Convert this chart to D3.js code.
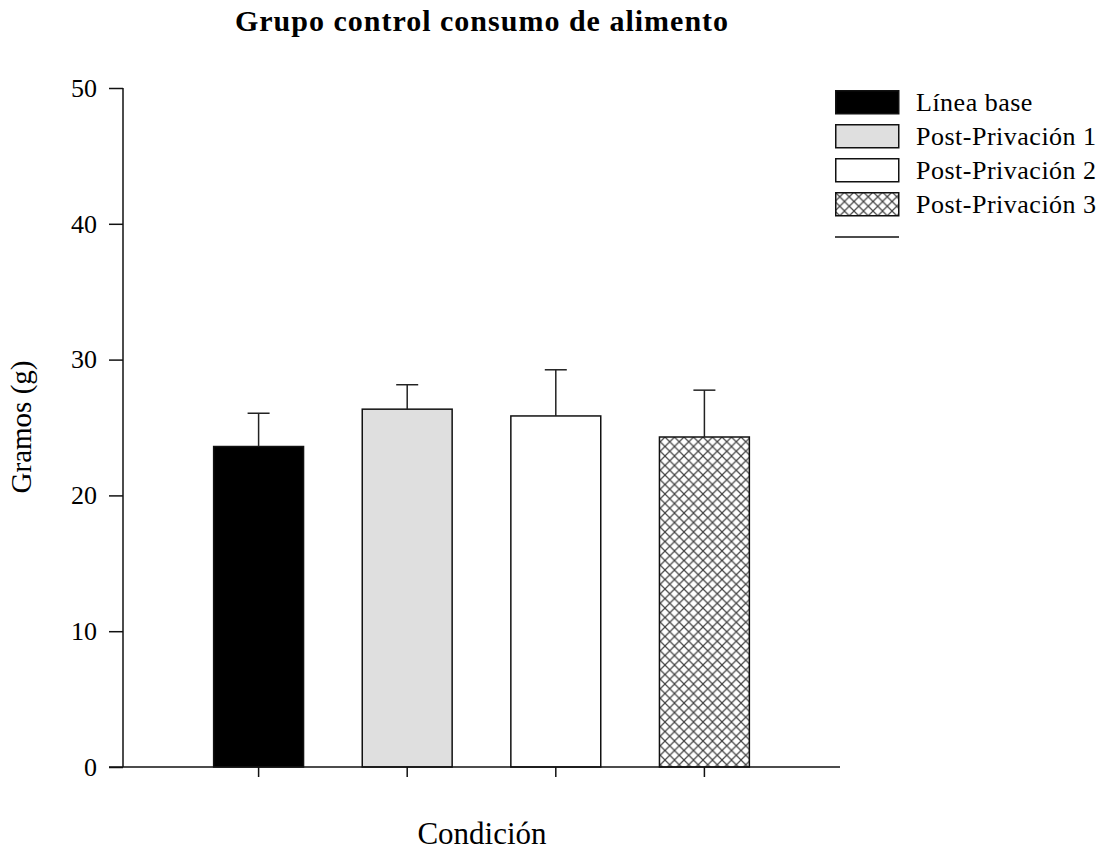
<!DOCTYPE html>
<html>
<head>
<meta charset="utf-8">
<script src="https://cdn.jsdelivr.net/npm/d3@7"></script>
<style>
  body { margin: 0; background: #fff; }
  text { font-family: "Liberation Serif", "Times New Roman", serif; fill: #000; }
</style>
</head>
<body>
<div id="chart"></div>
<script>
// data
const categories = ['Línea base', 'Post-Privación 1', 'Post-Privación 2', 'Post-Privación 3']
const means = [23.6, 26.35, 25.85, 24.3]
const errors = [2.45, 1.8, 3.4, 3.45]
const yTicks = [0, 10, 20, 30, 40, 50]

const width = 1104, height = 850
const plot = { left: 123, right: 840, top: 88, bottom: 767 }
const serif = '"Liberation Serif", "Times New Roman", serif'

const svg = d3.select('#chart').append('svg')
    .attr('width', width)
    .attr('height', height)

// crosshatch fill for the last condition
const defs = svg.append('defs')
const pat = defs.append('pattern')
    .attr('id', 'hatch')
    .attr('patternUnits', 'userSpaceOnUse')
    .attr('width', 9.5).attr('height', 9.5)
pat.append('rect').attr('width', 9.5).attr('height', 9.5).attr('fill', '#fff')
pat.append('path')
    .attr('d', 'M0,0L9.5,9.5M9.5,0L0,9.5')
    .attr('stroke', '#444').attr('stroke-width', 1.2)

const fills = ['#000', '#dfdfdf', '#fff', 'url(#hatch)']

let x = d3.scaleBand()
    .domain(categories)
    .range([plot.left, plot.right])
    .paddingInner(0.395)
    .paddingOuter(0.61)

let y = d3.scaleLinear()
    .domain([0, 50])
    .range([plot.bottom, plot.top])

// title
svg.append('text')
    .attr('x', 482).attr('y', 31)
    .attr('text-anchor', 'middle')
    .attr('font-family', serif)
    .attr('font-size', 30)
    .attr('letter-spacing', 1)
    .attr('font-weight', 'bold')
    .text('Grupo control consumo de alimento')

// bars
svg.append('g').selectAll('rect')
    .data(categories)
    .join('rect')
    .attr('x', d => x(d))
    .attr('width', x.bandwidth())
    .attr('y', (d, i) => y(means[i]))
    .attr('height', (d, i) => y(0) - y(means[i]))
    .attr('fill', (d, i) => fills[i])
    .attr('stroke', '#111')
    .attr('stroke-width', 1.5)

// error bars (upper only)
const eb = svg.append('g').attr('stroke', '#222').attr('stroke-width', 1.5)
categories.forEach(function (c, i) {
    let cx = x(c) + x.bandwidth() / 2
    eb.append('line')
        .attr('x1', cx).attr('x2', cx)
        .attr('y1', y(means[i])).attr('y2', y(means[i] + errors[i]))
    eb.append('line')
        .attr('x1', cx - 11).attr('x2', cx + 11)
        .attr('y1', y(means[i] + errors[i])).attr('y2', y(means[i] + errors[i]))
})

// y axis
const yAxis = svg.append('g')
    .attr('transform', `translate(${plot.left},0)`)
    .call(d3.axisLeft(y).tickValues(yTicks).tickSize(14).tickPadding(12))
yAxis.select('.domain').attr('d', `M0,${plot.top}V${plot.bottom}`).attr('stroke', '#111').attr('stroke-width', 1.5)
yAxis.selectAll('.tick line').attr('stroke', '#111').attr('stroke-width', 1.5)
yAxis.selectAll('.tick text')
    .attr('font-size', 26)
    .attr('font-family', serif)

// x axis (ticks at bar centres, no labels)
const xAxis = svg.append('g')
    .attr('transform', `translate(0,${plot.bottom})`)
    .call(d3.axisBottom(x).tickSize(10).tickFormat(''))
xAxis.select('.domain').attr('d', `M${plot.left - 14},0H${plot.right}`).attr('stroke', '#111').attr('stroke-width', 1.5)
xAxis.selectAll('.tick line').attr('stroke', '#111').attr('stroke-width', 1.5)

// axis titles
svg.append('text')
    .attr('transform', 'translate(31,427) rotate(-90)')
    .attr('text-anchor', 'middle')
    .attr('font-family', serif)
    .attr('font-size', 29)
    .text('Gramos (g)')

svg.append('text')
    .attr('x', 482).attr('y', 844)
    .attr('text-anchor', 'middle')
    .attr('font-family', serif)
    .attr('font-size', 31)
    .text('Condición')

// legend
const legend = svg.append('g').attr('transform', 'translate(835,90)')
categories.forEach(function (c, i) {
    let row = legend.append('g').attr('transform', `translate(0,${i * 34})`)
    row.append('rect')
        .attr('x', 0.75).attr('y', 0.75)
        .attr('width', 63).attr('height', 23)
        .attr('fill', fills[i])
        .attr('stroke', '#111').attr('stroke-width', 1.5)
    row.append('text')
        .attr('x', 81).attr('y', 21)
        .attr('font-family', serif)
        .attr('font-size', 26)
        .attr('letter-spacing', 0.5)
        .text(c)
})
legend.append('line')
    .attr('x1', 0).attr('x2', 64)
    .attr('y1', 147).attr('y2', 147)
    .attr('stroke', '#111').attr('stroke-width', 1.5)
</script>
</body>
</html>
